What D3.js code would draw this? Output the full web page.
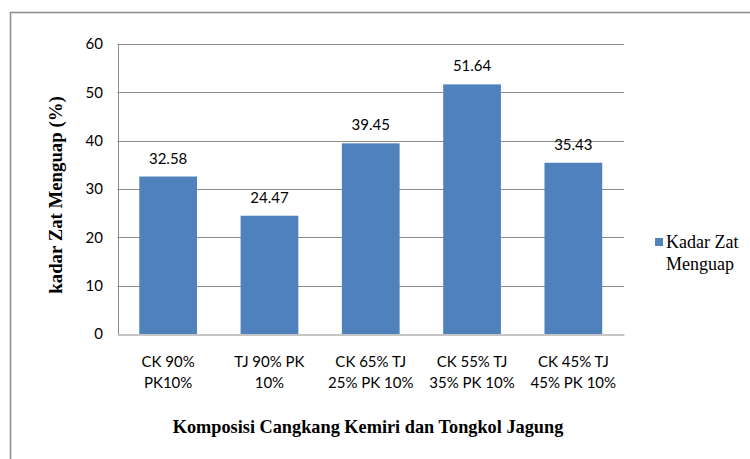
<!DOCTYPE html>
<html><head><meta charset="utf-8">
<script src="https://cdn.jsdelivr.net/npm/d3@7"></script>
<style>body{margin:0;background:#fff}svg{display:block}</style>
</head><body>
<svg id="c" width="750" height="459"></svg>
<script>
const categories = [["CK 90%","PK10%"],["TJ 90% PK","10%"],["CK 65% TJ","25% PK 10%"],["CK 55% TJ","35% PK 10%"],["CK 45% TJ","45% PK 10%"]];
const values = [32.58, 24.47, 39.45, 51.64, 35.43];
const yTicks = [0,10,20,30,40,50,60];
const seriesName = ["Kadar Zat","Menguap"];
const xTitle = "Komposisi Cangkang Kemiri dan Tongkol Jagung";
const yTitle = "kadar Zat Menguap (%)";

const svg = d3.select("#c");
const L=117.5, R=624, T=44, B=334;
const labFont = "Lato, 'Open Sans', sans-serif";
const serif = "'Liberation Serif','Times New Roman',serif";

// outer frame
svg.append("rect").attr("x",10.5).attr("y",12.5).attr("width",760).attr("height",470)
  .attr("fill","none").attr("stroke","#8c8c8c").attr("stroke-width",1.5);

const x = d3.scaleBand().domain(d3.range(values.length)).range([L,R]).paddingInner(0.43).paddingOuter(0.215);
const y = d3.scaleLinear().domain([0,60]).range([B,T]);

// gridlines
svg.append("g").selectAll("line").data(yTicks.filter(d=>d>0)).join("line")
  .attr("x1",L).attr("x2",R).attr("y1",d=>Math.round(y(d))+0.5).attr("y2",d=>Math.round(y(d))+0.5)
  .attr("stroke","#8c8c8c").attr("stroke-width",1);

// bars
svg.append("g").selectAll("rect").data(values).join("rect")
  .attr("x",(d,i)=>x(i)).attr("width",x.bandwidth())
  .attr("y",d=>y(d)).attr("height",d=>B-y(d)).attr("fill","#4F81BD");

// axes
const yAxis = d3.axisLeft(y).tickValues(yTicks).tickSize(0).tickPadding(15);
const gy = svg.append("g").attr("transform",`translate(${L+0.5},0)`).call(yAxis);
gy.select(".domain").attr("stroke","#8c8c8c");
gy.selectAll("text").attr("font-family",labFont).attr("font-size",15).attr("fill","#000");

const gx = svg.append("g").attr("transform",`translate(0,${B+0.5})`).call(d3.axisBottom(x).tickSize(0).tickFormat(""));
gx.select(".domain").attr("stroke","#8c8c8c");

// category labels
const cl = svg.append("g").selectAll("text").data(categories).join("text")
  .attr("x",(d,i)=>x(i)+x.bandwidth()/2).attr("y",367)
  .attr("text-anchor","middle").attr("font-family",labFont).attr("font-size",15).attr("fill","#000");
cl.each(function(d){
  const t=d3.select(this);
  d.forEach((s,k)=>t.append("tspan").attr("x",t.attr("x")).attr("dy",k?21:0).text(s));
});

// value labels
svg.append("g").selectAll("text").data(values).join("text")
  .attr("x",(d,i)=>x(i)+x.bandwidth()/2).attr("y",d=>y(d)-13)
  .attr("text-anchor","middle").attr("font-family",labFont).attr("font-size",15).attr("fill","#000")
  .text(d=>d.toFixed(2));

// axis titles
svg.append("text").attr("x",368).attr("y",433).attr("text-anchor","middle")
  .attr("font-family",serif).attr("font-weight","bold").attr("font-size",18.3).text(xTitle);
svg.append("text").attr("transform","translate(62,195) rotate(-90)").attr("text-anchor","middle")
  .attr("font-family",serif).attr("font-weight","bold").attr("font-size",18.8).text(yTitle);

// legend
svg.append("rect").attr("x",655).attr("y",238).attr("width",8).attr("height",8).attr("fill","#4F81BD");
const lg = svg.append("text").attr("x",666).attr("y",248).attr("font-family",serif).attr("font-size",18).attr("fill","#000");
seriesName.forEach((s,k)=>lg.append("tspan").attr("x",666).attr("dy",k?22:0).text(s));
</script>
</body></html>
